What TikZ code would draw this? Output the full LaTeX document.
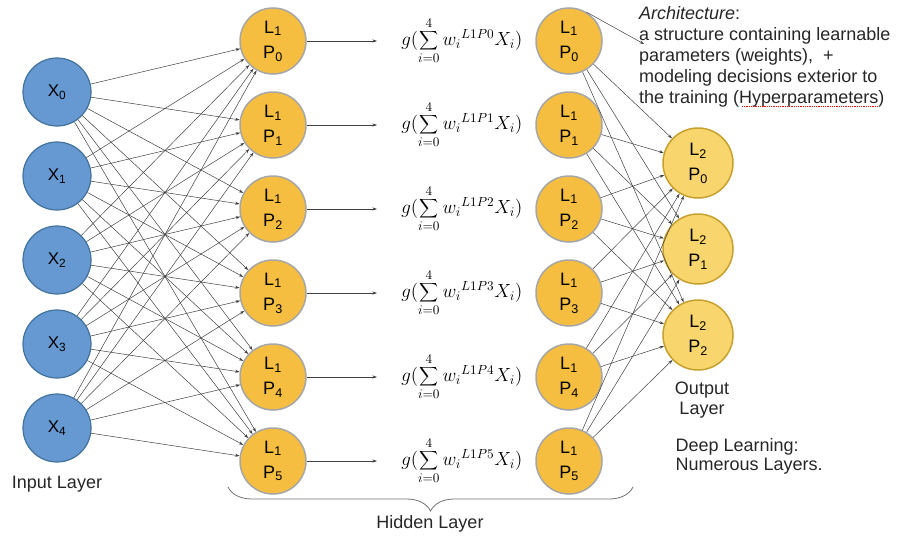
\documentclass[tikz,border=0pt]{standalone}
\usepackage{fontspec}
\setmainfont{Liberation Sans}
\usetikzlibrary{arrows.meta,decorations.pathreplacing}

\definecolor{infill}{HTML}{6699D2}
\definecolor{inborder}{HTML}{41719C}
\definecolor{hidfill}{HTML}{F5BE41}
\definecolor{hidborder}{HTML}{A6A6A6}
\definecolor{outfill}{HTML}{F9D56E}
\definecolor{outborder}{HTML}{C8A02D}
\definecolor{linkc}{HTML}{404040}

\tikzset{
  inp/.style={circle, draw=inborder, fill=infill, line width=1.2pt,
    minimum size=68pt, inner sep=0pt, font=\fontsize{17}{17}\selectfont},
  hid/.style={circle, draw=hidborder, fill=hidfill, line width=1.5pt,
    minimum size=66pt, inner sep=0pt, align=center,
    font=\fontsize{18}{25}\selectfont},
  outn/.style={circle, draw=outborder, fill=outfill, line width=1.5pt,
    minimum size=70pt, inner sep=0pt, align=center,
    font=\fontsize{18}{25}\selectfont},
  link/.style={draw=linkc, line width=0.5pt, -{Stealth[length=4.5pt,width=3pt]}},
  formula/.style={anchor=west, inner sep=0pt, scale=1.32, transform shape,
    font=\fontsize{14}{16}\selectfont},
  label/.style={font=\fontsize{18}{21}\selectfont, text=black!85},
  noteline/.style={anchor=base west, inner sep=0pt,
    font=\fontsize{18}{21}\selectfont, text=black!85},
}

\begin{document}
\begin{tikzpicture}[x=1pt, y=-1pt]
  \useasboundingbox (0,0) rectangle (899,538);

  % input layer
  \foreach \k in {0,...,4}
    \node[inp] (x\k) at (57, 92+84*\k) {X\textsubscript{\k}};

  % hidden layer: left column, formulas, right column
  \foreach \k in {0,...,5} {
    \node[hid] (hl\k) at (273, 41+84*\k) {L\textsubscript{1}\\P\textsubscript{\k}};
    \node[hid] (hr\k) at (569, 41+84*\k) {L\textsubscript{1}\\P\textsubscript{\k}};
    \coordinate (ft\k) at (377, 41+84*\k);
    \node[formula] (f\k) at (401, 41+84*\k)
      {$g(\displaystyle\sum_{i=0}^{4} {w_{i}}^{L1P\k} X_i)$};
    \draw[link] (hl\k) -- (ft\k);
  }

  % output layer
  \foreach \k in {0,...,2}
    \node[outn] (o\k) at (698, 163+86*\k) {L\textsubscript{2}\\P\textsubscript{\k}};

  % input -> hidden connections
  \foreach \a in {0,...,4}
    \foreach \b in {0,...,5}
      \draw[link] (x\a) -- (hl\b);

  % hidden -> output connections
  \foreach \a in {0,...,5}
    \foreach \b in {0,...,2}
      \draw[link] (hr\a) -- (o\b);

  % layer labels
  \node[label] (inlab) at (57, 484) {Input Layer};
  \node[label, align=center, font=\fontsize{18}{20}\selectfont] (outlab) at (702, 400) {Output\\Layer};
  \node[label, anchor=west, align=left, font=\fontsize{18}{19}\selectfont] (deep) at (672, 456)
    {Deep Learning:\\Numerous Layers.};

  % brace under the hidden layer
  \draw[draw=black!55, line width=0.8pt, decorate,
        decoration={brace, amplitude=24pt, mirror}]
    (228, 487) -- (633, 487);
  \node[label] (hidlab) at (430, 524) {Hidden Layer};

  % architecture note, one node per line
  \node[noteline] (arch0) at (639, 19)  {\textit{Architecture}:};
  \node[noteline] (arch1) at (639, 40)  {a structure containing learnable};
  \node[noteline] (arch2) at (639, 61)  {parameters (weights),\ \ +};
  \node[noteline] (arch3) at (639, 82)  {modeling decisions exterior to};
  \node[noteline] (arch4) at (639, 103) {the training (Hyperparameters)};
  \coordinate (archtip) at (644, 44);
  \draw[link] (hr0.59) -- (archtip);
  \draw[red, densely dotted, line width=0.8pt] (742, 106) -- (878, 106);
\end{tikzpicture}
\end{document}
